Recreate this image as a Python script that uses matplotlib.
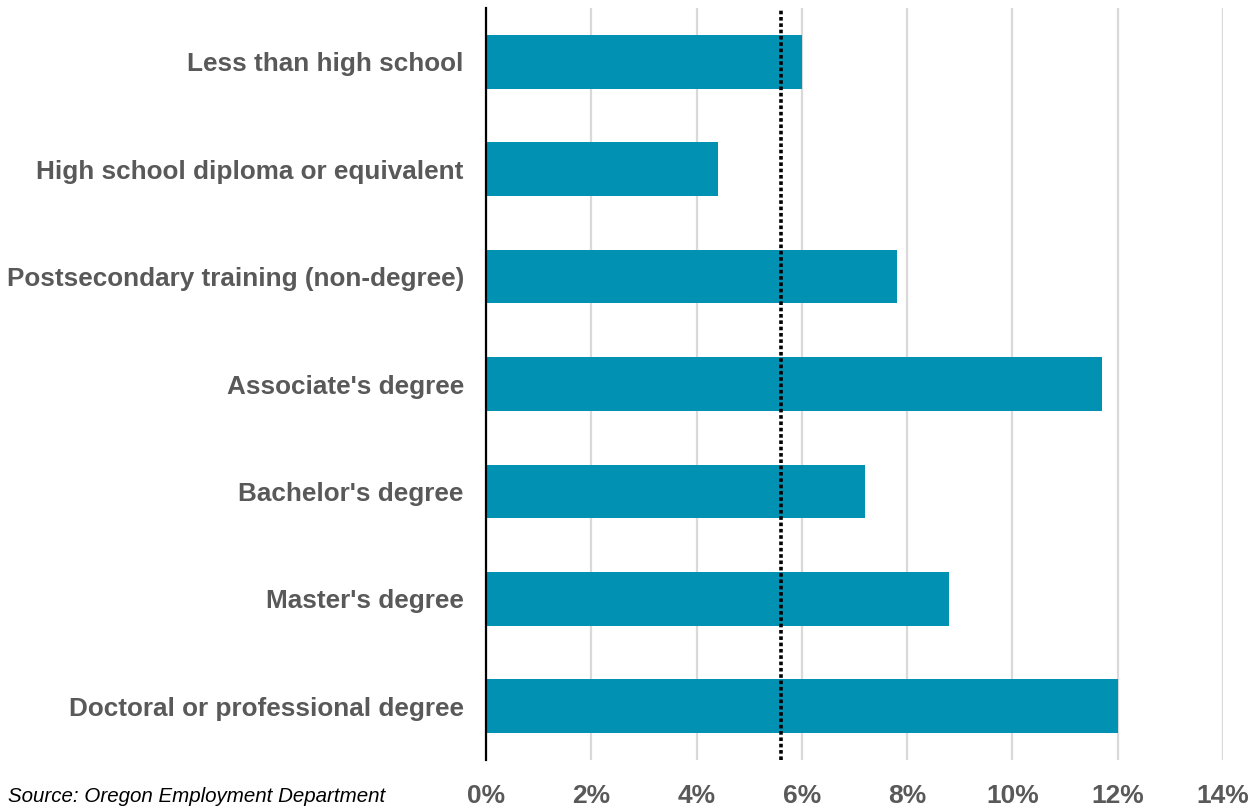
import matplotlib.pyplot as plt

plt.rcParams['font.family'] = ['Liberation Sans', 'DejaVu Sans']

categories = ["Less than high school",
              "High school diploma or equivalent",
              "Postsecondary training (non-degree)",
              "Associate's degree",
              "Bachelor's degree",
              "Master's degree",
              "Doctoral or professional degree"]
values = [6.0, 4.4, 7.8, 11.7, 7.2, 8.8, 12.0]
average = 5.6
xticks = [0, 2, 4, 6, 8, 10, 12, 14]
xtick_labels = ['0%', '2%', '4%', '6%', '8%', '10%', '12%', '14%']

fig = plt.figure(figsize=(12.6, 8.11), dpi=100)
ax = fig.add_axes([0.3857, 0.0629, 0.9706 - 0.3857, 0.990 - 0.0629])

ypos = list(range(len(categories)))
ax.barh(ypos, values, height=0.5, color='#0091B3', zorder=3)
ax.axvline(average, color='black', linewidth=2.6, linestyle=(0, (1, 0.75)), zorder=4)

ax.set_xlim(0, 14)
ax.set_ylim(len(categories) - 0.5, -0.5)
ax.set_xticks(xticks)
ax.set_xticklabels(xtick_labels)
ax.set_yticks(ypos)
ax.set_yticklabels(categories)

ax.grid(axis='x', color='#D9D9D9', linewidth=1.6, zorder=0)
ax.set_axisbelow(True)
for s in ['top', 'right', 'bottom']:
    ax.spines[s].set_visible(False)
ax.spines['left'].set_linewidth(1.6)
ax.spines['left'].set_color('black')
ax.spines['left'].set_zorder(5)

ax.tick_params(axis='both', length=0, labelcolor='#595959')
ax.tick_params(axis='x', pad=17, labelsize=19)
ax.tick_params(axis='y', pad=16, labelsize=18.8)
for lbl in ax.get_xticklabels() + ax.get_yticklabels():
    lbl.set_fontweight('bold')

fig.text(0.006, 0.0173, 'Source: Oregon Employment Department', fontsize=14.8,
         style='italic', color='black', va='center', ha='left')

fig.savefig('out.png', dpi=100)
